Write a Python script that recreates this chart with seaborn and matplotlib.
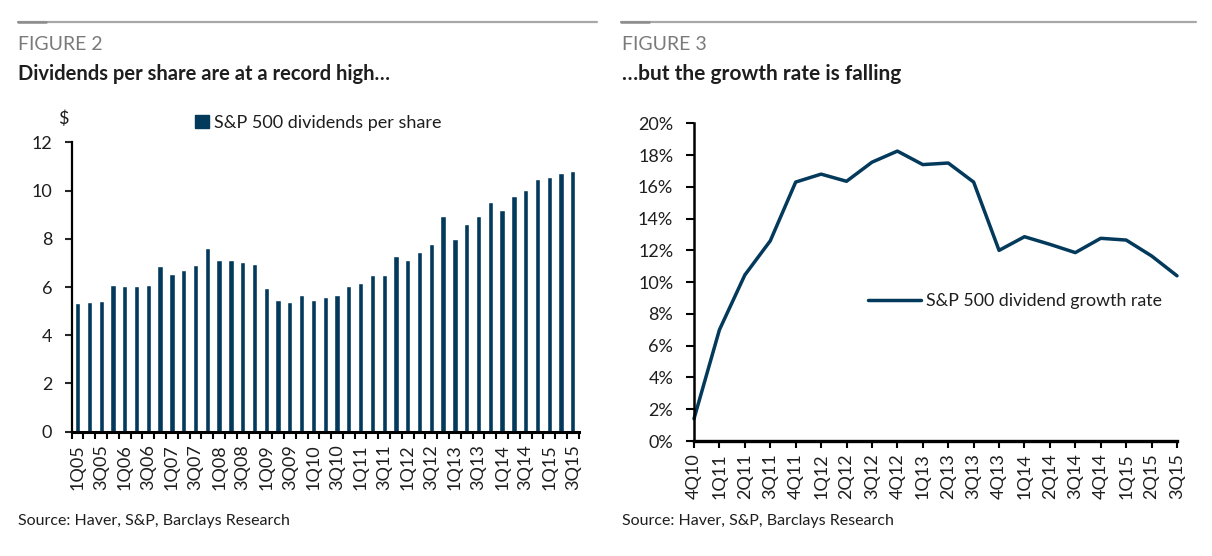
import numpy as np
import matplotlib.pyplot as plt
import seaborn as sns
from matplotlib.lines import Line2D
from matplotlib.patches import Patch

# --- datos ---
trimestres = [f"{q}Q{y:02d}" for y in range(5, 16) for q in range(1, 5)][:43]
dividendos = [5.35, 5.37, 5.42, 6.09, 6.03, 6.03, 6.09, 6.89, 6.53, 6.69,
              6.90, 7.62, 7.11, 7.12, 7.04, 6.96, 5.96, 5.45, 5.37, 5.67,
              5.46, 5.59, 5.67, 6.04, 6.17, 6.50, 6.51, 7.29, 7.11, 7.47,
              7.79, 8.95, 7.98, 8.63, 8.93, 9.54, 9.21, 9.78, 10.03, 10.48,
              10.57, 10.73, 10.82]

trimestres_crec = ['4Q10', '1Q11', '2Q11', '3Q11', '4Q11', '1Q12', '2Q12', '3Q12',
                   '4Q12', '1Q13', '2Q13', '3Q13', '4Q13', '1Q14', '2Q14', '3Q14',
                   '4Q14', '1Q15', '2Q15', '3Q15']
crecimiento = [1.4, 7.0, 10.45, 12.6, 16.3, 16.8, 16.35, 17.55, 18.25, 17.4,
               17.5, 16.3, 12.0, 12.86, 12.38, 11.86, 12.76, 12.65, 11.65, 10.4]

y_ticks_izq = [0, 2, 4, 6, 8, 10, 12]
y_ticks_der = [0, 2, 4, 6, 8, 10, 12, 14, 16, 18, 20]

AZUL = '#033a5c'
TEXTO = '#1e1e1e'
GRIS = '#7a7a7a'
FS = 13  # tamaño de ticks y leyendas

sns.set_style('ticks')
plt.rcParams['font.family'] = ['Lato', 'DejaVu Sans']

fig = plt.figure(figsize=(12.12, 5.56), dpi=100)
W, H = 1212, 556

def fx(px):
    return px / W

def fy(py):
    return 1 - py / H

# --- lineas superiores y textos ---
for x0, x1 in [(18, 597), (621, 1196)]:
    fig.add_artist(Line2D([fx(x0), fx(x1)], [fy(22)] * 2, color='#a8a8a8', lw=1.6))
    fig.add_artist(Line2D([fx(x0), fx(x0 + 28)], [fy(22)] * 2, color='#8c8c8c', lw=1.8))

fig.text(fx(18), fy(45), 'FIGURE 2', fontsize=14, color=GRIS, va='center')
fig.text(fx(18), fy(74), 'Dividends per share are at a record high…', fontsize=14.5,
         fontweight='bold', color=TEXTO, va='center')
fig.text(fx(18), fy(521), 'Source: Haver, S&P, Barclays Research', fontsize=11.5,
         color=TEXTO, va='center')

fig.text(fx(622), fy(45), 'FIGURE 3', fontsize=14, color=GRIS, va='center')
fig.text(fx(622), fy(74), '…but the growth rate is falling', fontsize=15,
         fontweight='bold', color=TEXTO, va='center')
fig.text(fx(622), fy(521), 'Source: Haver, S&P, Barclays Research', fontsize=11.5,
         color=TEXTO, va='center')

# --- grafico de barras ---
ax1 = fig.add_axes([fx(71.7), fy(431.7), fx(578.7 - 71.7), (431.7 - 142.3) / H])
sns.barplot(x=trimestres, y=dividendos, color=AZUL, saturation=1, width=0.45, ax=ax1)
ax1.set_xlim(-0.5, len(trimestres) - 0.5)
ax1.set_ylim(0, 12)
ax1.set_yticks(y_ticks_izq)
ax1.set_xticks(range(0, len(trimestres), 2))
ax1.set_xticklabels(trimestres[::2], rotation=90)
ax1.set_xticks(np.arange(-0.5, len(trimestres)), minor=True)
ax1.tick_params(axis='x', which='major', length=0, pad=9, labelsize=FS, labelcolor=TEXTO)
ax1.tick_params(axis='x', which='minor', length=5, width=1.5, color='black')
ax1.tick_params(axis='y', length=5, width=1.5, pad=9, labelsize=FS, labelcolor=TEXTO)
ax1.set_xlabel('')
ax1.set_ylabel('')
for s in ['top', 'right']:
    ax1.spines[s].set_visible(False)
ax1.spines['left'].set_linewidth(1.6)
ax1.spines['bottom'].set_linewidth(2.2)
ax1.spines['left'].set_color('black')
ax1.spines['bottom'].set_color('black')
ax1.text(-0.006, 1.08, '$', transform=ax1.transAxes, ha='right', va='center',
         fontsize=FS, color=TEXTO)
ax1.legend(handles=[Patch(color=AZUL, label='S&P 500 dividends per share')],
           loc='center left', bbox_to_anchor=((195 - 71.7) / 507, (431.7 - 123) / 289.4),
           frameon=False, fontsize=FS, handlelength=0.75, handleheight=0.75,
           handletextpad=0.3, borderpad=0, borderaxespad=0, labelcolor=TEXTO)

# --- grafico de linea ---
ax2 = fig.add_axes([fx(694), fy(441), fx(1177 - 694), (441 - 123.3) / H])
idx = np.arange(len(crecimiento))
sns.lineplot(x=idx, y=crecimiento, color=AZUL, linewidth=2.5, ax=ax2,
             label='S&P 500 dividend growth rate', clip_on=False)
ax2.set_xlim(0, len(crecimiento) - 1)
ax2.set_ylim(0, 20)
ax2.set_yticks(y_ticks_der)
ax2.set_yticklabels([f"{v}%" for v in y_ticks_der])
ax2.set_xticks(idx)
ax2.set_xticklabels(trimestres_crec, rotation=90)
ax2.tick_params(axis='x', length=5, width=1.5, color='black', pad=4, labelsize=FS,
                labelcolor=TEXTO)
ax2.tick_params(axis='y', length=6, width=1.5, color='black', pad=9, labelsize=FS,
                labelcolor=TEXTO)
ax2.set_xlabel('')
ax2.set_ylabel('')
for s in ['top', 'right']:
    ax2.spines[s].set_visible(False)
ax2.spines['left'].set_linewidth(1.8)
ax2.spines['bottom'].set_linewidth(2.4)
ax2.spines['left'].set_color('black')
ax2.spines['bottom'].set_color('black')
ax2.legend(loc='center left', bbox_to_anchor=((868 - 694) / 483, 0.44), frameon=False,
           fontsize=12.8, handlelength=3.0, handletextpad=0.25, borderpad=0,
           borderaxespad=0, labelcolor=TEXTO)

plt.savefig('out.png', dpi=100)
